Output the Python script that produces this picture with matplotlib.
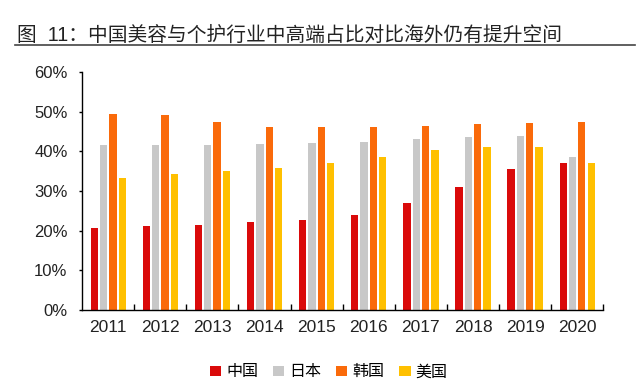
import numpy as np
import matplotlib
matplotlib.use('Agg')
import matplotlib.pyplot as plt
from matplotlib.lines import Line2D

plt.rcParams['font.family'] = ['Liberation Sans', 'Noto Sans CJK SC', 'DejaVu Sans']

years = ['2011', '2012', '2013', '2014', '2015', '2016', '2017', '2018', '2019', '2020']
china = [20.8, 21.1, 21.5, 22.2, 22.7, 24.0, 27.1, 31.0, 35.6, 37.1]
japan = [41.7, 41.6, 41.6, 41.9, 42.1, 42.3, 43.0, 43.6, 44.0, 38.6]
korea = [49.5, 49.1, 47.4, 46.2, 46.1, 46.1, 46.5, 47.0, 47.2, 47.5]
usa = [33.4, 34.4, 35.0, 35.8, 37.0, 38.7, 40.3, 41.0, 41.2, 37.0]
series = [('中国', china, '#DA0A0A'), ('日本', japan, '#C8C8C8'),
          ('韩国', korea, '#FA6A0A'), ('美国', usa, '#FFC000')]

fig = plt.figure(figsize=(6.37, 3.81), dpi=100)
ax = fig.add_axes([0.129, 0.186, 0.818, 0.625])

x = np.arange(len(years))
width = 0.14
pitch = 0.179
for i, (name, vals, color) in enumerate(series):
    ax.bar(x + (i - 1.5) * pitch, vals, width, color=color, label=name, linewidth=0)

ax.set_xlim(-0.5, len(years) - 0.5)
ax.set_ylim(0, 60)
ax.set_yticks(range(0, 61, 10))
ax.set_yticklabels([f'{v}%' for v in range(0, 61, 10)], fontsize=12, color='#222222')
ax.set_xticks(x)
ax.set_xticklabels(years, fontsize=12.5, color='#222222')
ax.tick_params(axis='x', length=0, pad=7)
ax.tick_params(axis='y', direction='out', length=2.5, width=1, pad=8)
# boundary ticks between categories
ax.set_xticks(np.arange(0.5, len(years), 1), minor=True)
ax.tick_params(axis='x', which='minor', direction='in', length=4, width=1)
for s in ['top', 'right']:
    ax.spines[s].set_visible(False)
for s in ['left', 'bottom']:
    ax.spines[s].set_linewidth(1)

fig.legend(loc='center', bbox_to_anchor=(0.516, 0.024), ncol=4, frameon=False,
           fontsize=11.5, handlelength=0.7, handleheight=0.6, handletextpad=0.3,
           columnspacing=0.95)

fig.text(0.027, 0.907, '图  11：中国美容与个护行业中高端占比对比海外仍有提升空间',
         fontsize=14.2, va='center', ha='left', color='#222222')
fig.add_artist(Line2D([0.024, 0.997], [0.883, 0.883], color='#444444', linewidth=1.2))

fig.savefig('out.png', dpi=100)
